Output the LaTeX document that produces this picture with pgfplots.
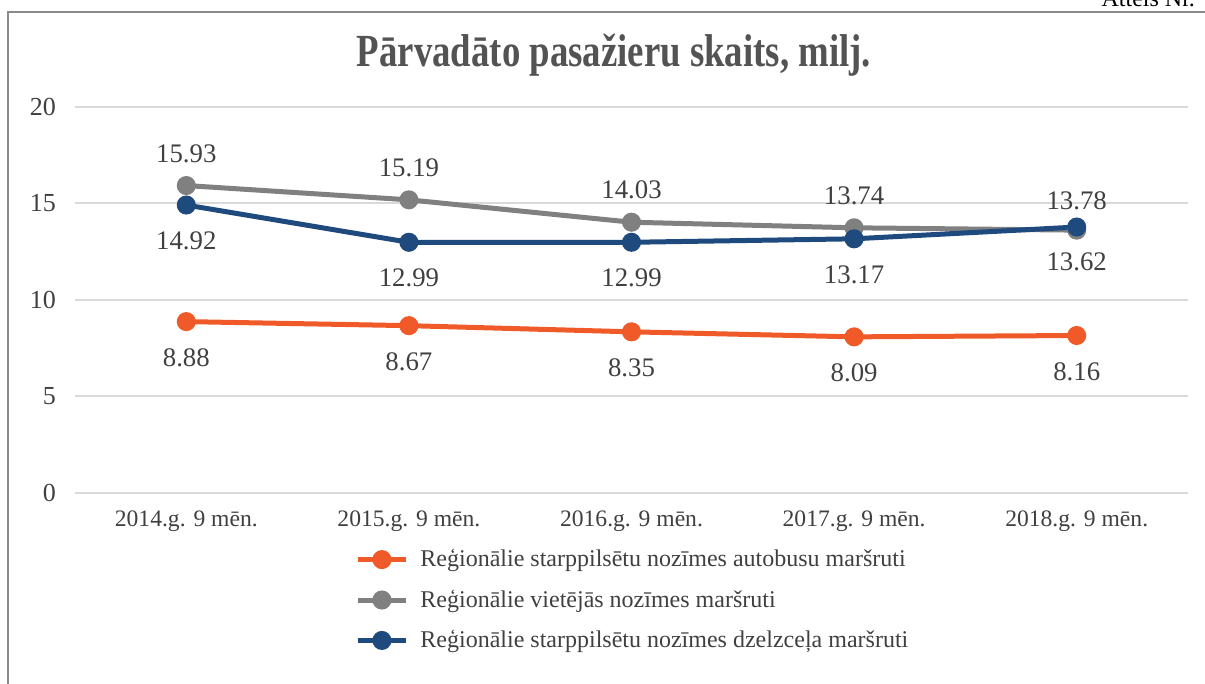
\documentclass[border=0pt]{standalone}
\usepackage{fontspec}
\setmainfont{Liberation Serif}
\newfontfamily\titlefont[FakeStretch=0.8]{Liberation Serif Bold}
\usepackage{pgfplots}
\pgfplotsset{compat=1.18}
\usepackage{pgfplotstable}
\definecolor{orng}{HTML}{F05A28}
\definecolor{gry}{HTML}{808080}
\definecolor{blu}{HTML}{1F4A7E}
\definecolor{txt}{HTML}{404040}
\definecolor{grd}{HTML}{D9D9D9}
\definecolor{frm}{HTML}{8A8A8A}

% x y label-offset(pt) label
\pgfplotstableread{
x y dy lab
0 8.88 -18 8.88
1 8.67 -18 8.67
2 8.35 -18 8.35
3 8.09 -18 8.09
4 8.16 -18 8.16
}\autobusi
\pgfplotstableread{
x y dy lab
0 15.93 16 15.93
1 15.19 16 15.19
2 14.03 16 14.03
3 13.74 16 13.74
4 13.62 -16 13.62
}\vietejie
\pgfplotstableread{
x y dy lab
0 14.92 -18 14.92
1 12.99 -18 12.99
2 12.99 -18 12.99
3 13.17 -18 13.17
4 13.78 13 13.78
}\dzelzcels

\begin{document}
\begin{tikzpicture}
\useasboundingbox (0,0) rectangle (602.5pt,342pt);
\draw[frm, line width=0.9pt] (4pt,0) -- (4pt,336pt) -- (603pt,336pt);
\node[anchor=base east, font=\fontsize{12}{14}\selectfont] at (601pt,338.5pt) {Attēls Nr.};
\node[text=txt!90, font=\titlefont\fontsize{23}{26}\selectfont] at (307pt,314.5pt) {Pārvadāto pasažieru skaits, milj.};
\begin{axis}[
  at={(37.5pt,95.5pt)}, anchor=south west,
  scale only axis, width=556.5pt, height=193pt,
  xmin=-0.5, xmax=4.5, ymin=0, ymax=20,
  ytick={0,5,10,15,20}, xtick={0,1,2,3,4},
  xticklabels={2014.g. 9 mēn., 2015.g. 9 mēn., 2016.g. 9 mēn., 2017.g. 9 mēn., 2018.g. 9 mēn.},
  axis line style={draw=none}, major tick length=0pt,
  ymajorgrids, grid style={grd, line width=1pt},
  /pgf/number format/assume math mode=true,
  yticklabel style={font=\fontsize{13}{15}\selectfont, text=txt, xshift=-6pt},
  xticklabel style={font=\fontsize{11.8}{14}\selectfont, text=txt, yshift=-5.5pt},
  every axis plot/.append style={line width=2.5pt, mark=*, mark size=3.5pt},
  nodes near coords, point meta=explicit symbolic,
  visualization depends on={\thisrow{dy}\as\dy},
  every node near coord/.append style={anchor=center, yshift=\dy pt, text=txt, font=\fontsize{13.4}{15}\selectfont},
  legend style={at={(0.2516,-0.1347)}, anchor=north west, draw=none, fill=none,
    font=\fontsize{12}{14}\selectfont, text=txt, row sep=6pt, inner sep=0pt,
    nodes={inner xsep=6pt}},
  legend cell align=left,
  legend image code/.code={\draw[mark repeat=2, mark phase=2] plot coordinates {(0pt,0pt) (12pt,0pt) (24pt,0pt)};},
]
\addplot[orng, mark options={orng}] table[x=x, y=y, meta=lab] {\autobusi};
\addlegendentry{Reģionālie starppilsētu nozīmes autobusu maršruti}
\addplot[gry, mark options={gry}] table[x=x, y=y, meta=lab] {\vietejie};
\addlegendentry{Reģionālie vietējās nozīmes maršruti}
\addplot[blu, mark options={blu}] table[x=x, y=y, meta=lab] {\dzelzcels};
\addlegendentry{Reģionālie starppilsētu nozīmes dzelzceļa maršruti}
\end{axis}
\end{tikzpicture}
\end{document}
